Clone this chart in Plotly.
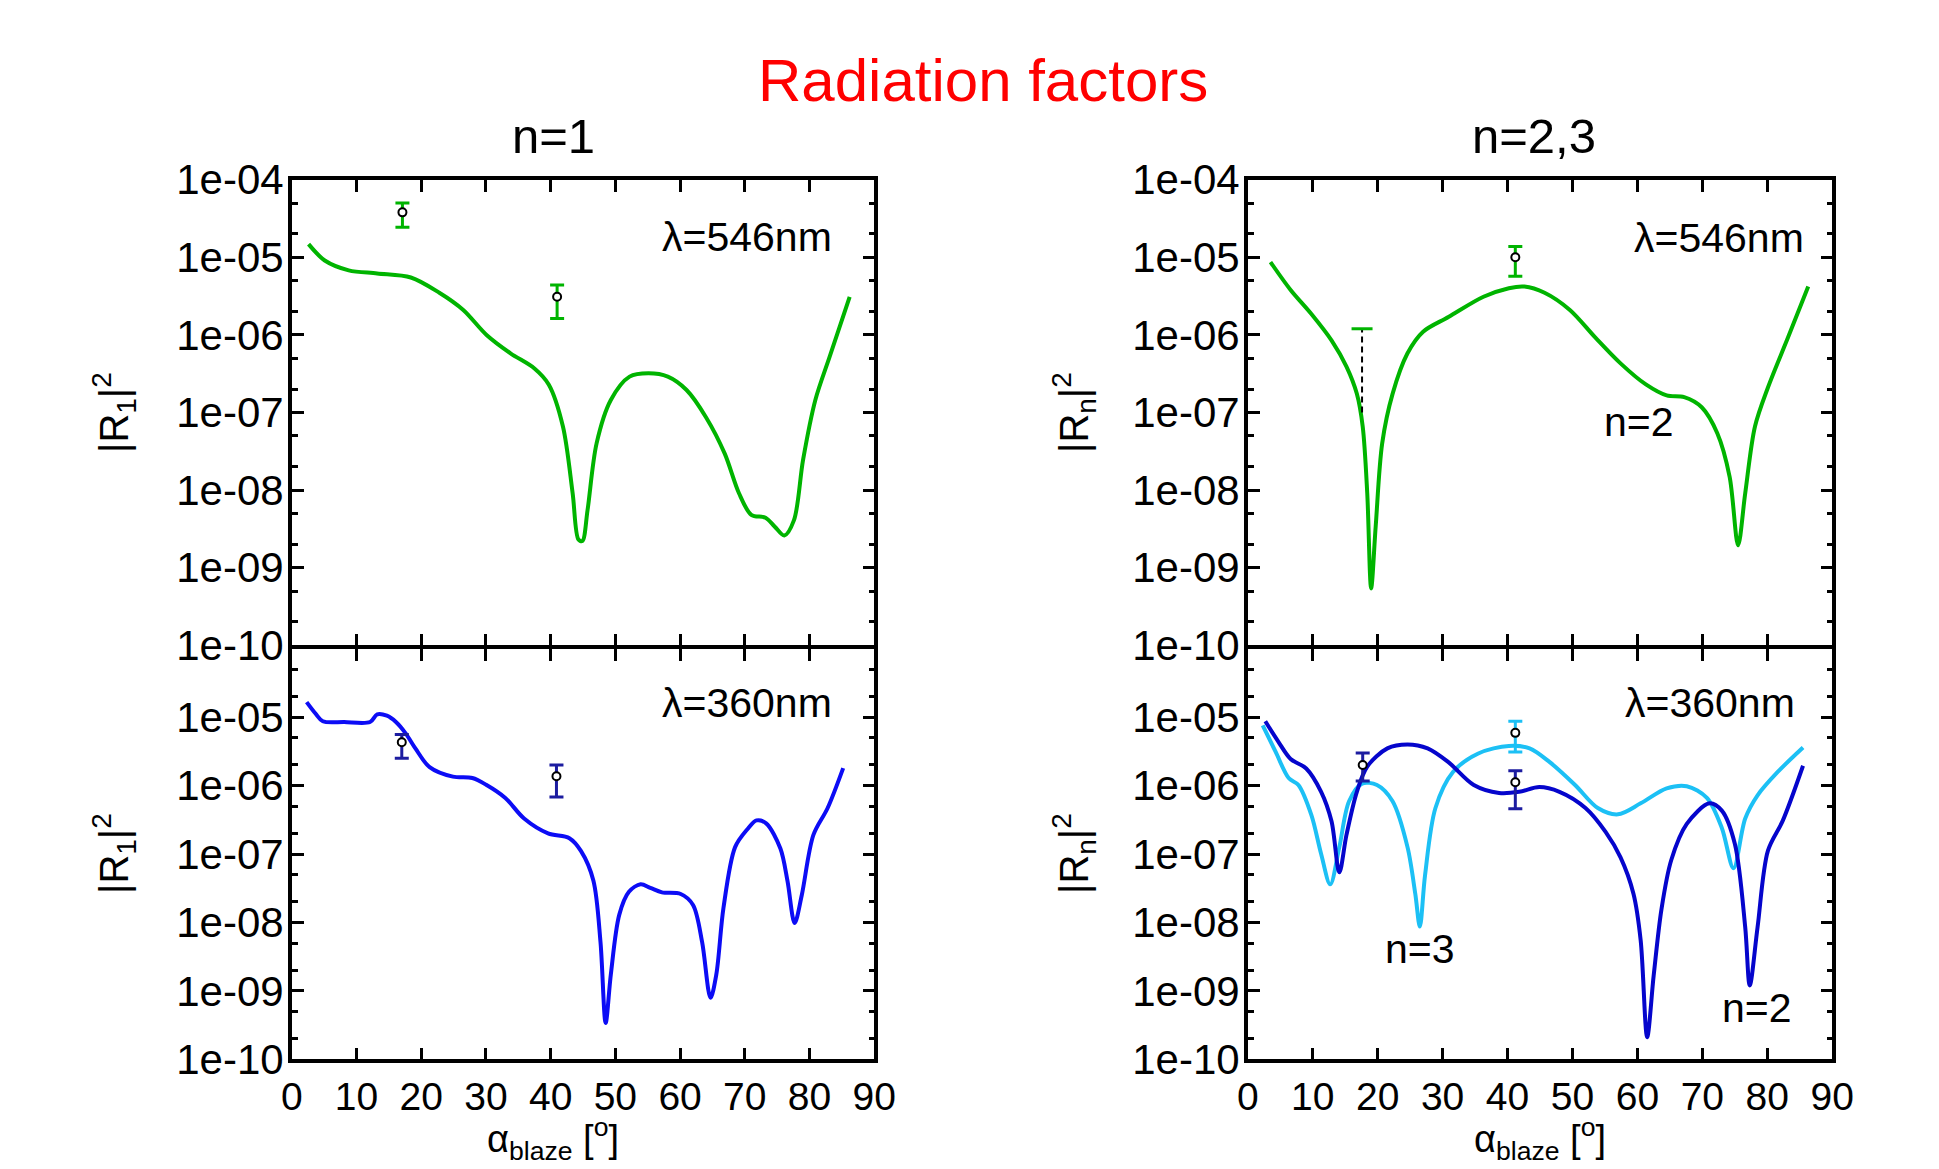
import plotly.graph_objects as go

# ---------------- data ----------------
# top-left: n=1, lambda=546nm (green)
tl_x = [2.6, 5.1, 8.8, 13.2, 18.4, 22.8, 26.5, 30.1, 33.8, 37.5, 39.7, 41.9, 43.4, 44.3, 44.9, 45.7,
        47.1, 49.3, 52.2, 55.1, 58.1, 61.0, 64.0, 66.9, 69.1, 71.0, 73.2, 74.6, 76.1, 77.6, 79.0,
        80.9, 83.1, 86.2]
tl_y = [1.48e-5, 9.1e-6, 6.8e-6, 6.2e-6, 5.5e-6, 3.5e-6, 2.1e-6, 1.0e-6, 5.8e-7, 3.7e-7, 2.3e-7,
        6.6e-8, 9.1e-9, 2.3e-9, 2.2e-9, 5.5e-9, 4.0e-8, 1.45e-7, 2.9e-7, 3.2e-7, 2.9e-7, 1.95e-7,
        8.7e-8, 2.95e-8, 9.1e-9, 4.8e-9, 4.4e-9, 3.4e-9, 2.6e-9, 4.1e-9, 2.45e-8, 1.45e-7, 5.2e-7,
        3.1e-6]
tl_pts_x = [17.1, 41.0]
tl_pts_y = [3.8e-5, 3.1e-6]
tl_pts_hi = [5.0e-5, 4.4e-6]
tl_pts_lo = [2.45e-5, 1.63e-6]

# top-right: n=2, lambda=546nm (green)
tr_x = [3.5, 6.6, 9.8, 12.9, 15.2, 16.8, 17.7, 18.4, 19.0, 19.7, 20.7, 22.3, 24.6, 27.0, 30.9, 36.3,
        40.2, 42.6, 45.7, 49.6, 53.5, 57.4, 61.3, 64.5, 67.2, 69.9, 72.3, 74.2, 75.5, 76.6, 78.1,
        80.1, 83.2, 86.3]
tr_y = [8.7e-6, 3.8e-6, 1.86e-6, 8.5e-7, 3.9e-7, 1.74e-7, 6.6e-8, 9.1e-9, 5.4e-10, 3.4e-9, 4.0e-8,
        1.74e-7, 5.8e-7, 1.1e-6, 1.7e-6, 3.1e-6, 4.0e-6, 4.2e-6, 3.5e-6, 2.1e-6, 9.3e-7, 4.3e-7,
        2.3e-7, 1.66e-7, 1.58e-7, 1.17e-7, 5.4e-8, 1.48e-8, 1.95e-9, 9.1e-9, 6.6e-8, 2.1e-7, 9.3e-7,
        4.2e-6]
tr_pts_x = [41.2]
tr_pts_y = [1.0e-5]
tr_pts_hi = [1.38e-5]
tr_pts_lo = [5.7e-6]
tr_lim_x = [17.6]
tr_lim_top = [1.2e-6]
tr_lim_bottom = [1.0e-7]

# bottom-left: n=1, lambda=360nm (blue)
bl_x = [2.3, 3.7, 4.8, 8.1, 12.1, 13.2, 14.7, 16.1, 17.6, 19.1, 21.3, 24.9, 27.9, 30.1, 33.0, 35.9,
        39.6, 42.9, 44.7, 46.6, 47.7, 48.5, 49.3, 50.6, 52.1, 53.9, 55.4, 57.2, 60.1, 62.0, 63.4,
        64.7, 65.6, 66.7, 68.5, 70.4, 71.8, 73.3, 75.5, 76.6, 77.7, 78.8, 80.6, 82.8, 85.2]
bl_y = [1.66e-5, 1.12e-5, 8.7e-6, 8.5e-6, 8.5e-6, 1.1e-5, 1.05e-5, 8.5e-6, 5.8e-6, 3.5e-6, 1.86e-6,
        1.35e-6, 1.29e-6, 1.02e-6, 6.6e-7, 3.3e-7, 2.0e-7, 1.7e-7, 1.1e-7, 4.1e-8, 5.2e-9, 3.4e-10,
        1.74e-9, 1.29e-8, 2.8e-8, 3.6e-8, 3.2e-8, 2.75e-8, 2.6e-8, 1.8e-8, 5.2e-9, 7.9e-10, 1.74e-9,
        1.62e-8, 1.26e-7, 2.3e-7, 3.1e-7, 2.8e-7, 1.2e-7, 4.0e-8, 9.8e-9, 2.5e-8, 1.9e-7, 4.7e-7,
        1.8e-6]
bl_pts_x = [17.0, 40.9]
bl_pts_y = [4.3e-6, 1.37e-6]
bl_pts_hi = [5.6e-6, 2.0e-6]
bl_pts_lo = [2.5e-6, 6.8e-7]

# bottom-right: lambda=360nm, n=2 (dark blue) and n=3 (light blue)
br2_x = [2.7, 4.7, 6.6, 9.0, 11.3, 12.9, 14.1, 15.2, 16.8, 18.4, 21.5, 24.6, 27.7, 30.9, 34.8, 38.7,
         41.8, 44.9, 48.0, 52.0, 55.1, 57.4, 59.4, 60.5, 61.5, 62.5, 63.7, 65.2, 67.6, 71.1, 73.0,
         75.0, 76.6, 77.3, 78.5, 80.1, 82.4, 85.5]
br2_y = [8.7e-6, 4.4e-6, 2.45e-6, 1.78e-6, 8.1e-7, 3.0e-7, 5.4e-8, 1.9e-7, 8.1e-7, 1.9e-6, 3.5e-6,
         4.0e-6, 3.5e-6, 2.2e-6, 1.02e-6, 7.8e-7, 8.1e-7, 9.5e-7, 8.1e-7, 4.7e-7, 2.1e-7, 8.9e-8,
         2.6e-8, 5.5e-9, 2.1e-10, 1.66e-9, 1.55e-8, 8.1e-8, 2.75e-7, 5.5e-7, 4.3e-7, 1.41e-7, 8.5e-9,
         1.2e-9, 8.5e-9, 1.12e-7, 3.1e-7, 1.95e-6]
br3_x = [2.3, 4.3, 6.3, 7.8, 9.8, 11.3, 12.7, 14.1, 15.6, 17.6, 19.9, 22.3, 24.6, 25.8, 26.5, 27.3,
         28.9, 31.6, 35.5, 40.2, 43.4, 46.5, 50.4, 53.9, 57.0, 60.5, 64.5, 67.6, 70.7, 73.0, 74.8,
         76.6, 78.5, 81.6, 85.5]
br3_y = [7.6e-6, 3.1e-6, 1.29e-6, 1.02e-6, 3.7e-7, 1.0e-7, 3.6e-8, 1.26e-7, 5.9e-7, 1.07e-6, 1.02e-6,
         5.9e-7, 1.26e-7, 2.6e-8, 8.7e-9, 4.9e-8, 4.7e-7, 1.58e-6, 2.95e-6, 3.8e-6, 3.5e-6, 2.2e-6,
         1.02e-6, 4.7e-7, 3.8e-7, 5.5e-7, 9.1e-7, 9.8e-7, 6.6e-7, 2.4e-7, 6.2e-8, 3.3e-7, 7.2e-7,
         1.58e-6, 3.6e-6]
br3_pts_x = [41.2]
br3_pts_y = [5.9e-6]
br3_pts_hi = [8.7e-6]
br3_pts_lo = [3.1e-6]
br2_pts_x = [17.7, 41.2]
br2_pts_y = [2.0e-6, 1.12e-6]
br2_pts_hi = [3.0e-6, 1.65e-6]
br2_pts_lo = [1.17e-6, 4.6e-7]

y_tick_vals = [1e-10, 1e-9, 1e-8, 1e-7, 1e-6, 1e-5, 1e-4]
y_tick_text = ["1e-10", "1e-09", "1e-08", "1e-07", "1e-06", "1e-05", "1e-04"]
y_minor_vals = [2e-10, 5e-10, 2e-9, 5e-9, 2e-8, 5e-8, 2e-7, 5e-7, 2e-6, 5e-6, 2e-5, 5e-5]
x_tick_vals = [0, 10, 20, 30, 40, 50, 60, 70, 80, 90]

# ---------------- styling ----------------
GREEN = "#00b400"
BLUE = "#0c0cf5"
DARKBLUE = "#0505cc"
LIGHTBLUE = "#1cc0f5"
NAVY = "#1c1ca0"
FONT = "Liberation Sans, Arial, sans-serif"
W, H = 1939, 1169
LW = 3.5


def px(x):
    return x / W


def py(y):
    return 1 - y / H


fig = go.Figure()


def curve(x, y, color, xa, ya):
    fig.add_trace(go.Scatter(x=x, y=y, mode="lines", xaxis=xa, yaxis=ya,
                             line=dict(color=color, width=4, shape="spline", smoothing=0.9),
                             showlegend=False, hoverinfo="skip"))


def points(x, y, hi, lo, color, xa, ya):
    fig.add_trace(go.Scatter(
        x=x, y=y, mode="markers", xaxis=xa, yaxis=ya, showlegend=False,
        marker=dict(symbol="circle", size=8, color="white", line=dict(color="black", width=2)),
        error_y=dict(type="data", symmetric=False,
                     array=[h - v for h, v in zip(hi, y)],
                     arrayminus=[v - l for l, v in zip(lo, y)],
                     color=color, thickness=3, width=7)))


curve(tl_x, tl_y, GREEN, "x", "y")
points(tl_pts_x, tl_pts_y, tl_pts_hi, tl_pts_lo, GREEN, "x", "y")

curve(tr_x, tr_y, GREEN, "x2", "y2")
points(tr_pts_x, tr_pts_y, tr_pts_hi, tr_pts_lo, GREEN, "x2", "y2")
for xv, top, bot in zip(tr_lim_x, tr_lim_top, tr_lim_bottom):
    fig.add_trace(go.Scatter(x=[xv, xv], y=[bot, top], mode="lines", xaxis="x2", yaxis="y2",
                             line=dict(color="black", width=2, dash="6px,4px"), showlegend=False))
fig.add_trace(go.Scatter(x=tr_lim_x, y=tr_lim_top, mode="markers", xaxis="x2", yaxis="y2",
                         marker=dict(symbol="line-ew", size=15, line=dict(color=GREEN, width=3)),
                         showlegend=False))

curve(bl_x, bl_y, BLUE, "x3", "y3")
points(bl_pts_x, bl_pts_y, bl_pts_hi, bl_pts_lo, NAVY, "x3", "y3")

curve(br3_x, br3_y, LIGHTBLUE, "x4", "y4")
curve(br2_x, br2_y, DARKBLUE, "x4", "y4")
points(br3_pts_x, br3_pts_y, br3_pts_hi, br3_pts_lo, LIGHTBLUE, "x4", "y4")
points(br2_pts_x, br2_pts_y, br2_pts_hi, br2_pts_lo, NAVY, "x4", "y4")

# ---------------- axes ----------------
XL = [px(290 + LW / 2), px(876 - LW / 2)]
XR = [px(1246 + LW / 2), px(1834 - LW / 2)]
YT = [py(647 - LW / 2), py(178 + LW / 2)]
YB = [py(1061 - LW / 2), py(647 + LW / 2)]

common = dict(showline=True, linecolor="black", linewidth=LW, mirror="ticks",
              ticks="inside", tickcolor="black", tickwidth=3, ticklen=12,
              showgrid=False, zeroline=False, automargin=False,
              tickfont=dict(family=FONT, size=39, color="black"))


def xaxis(domain, anchor, labels):
    return dict(common, domain=domain, anchor=anchor, range=[0, 90],
                tickvals=x_tick_vals, showticklabels=labels, ticklabelstandoff=0)


def yaxis(domain, anchor, top_label):
    vals = y_tick_vals if top_label else y_tick_vals[:-1]
    text = y_tick_text if top_label else y_tick_text[:-1]
    d = dict(common, domain=domain, anchor=anchor, type="log", range=[-10, -4],
             tickvals=vals, ticktext=text, ticklabelstandoff=-4,
             minor=dict(tickvals=y_minor_vals, ticks="inside", ticklen=6, tickwidth=2.5,
                        tickcolor="black", showgrid=False))
    d["tickfont"] = dict(family=FONT, size=42, color="black")
    return d


fig.update_layout(
    width=W, height=H, margin=dict(l=0, r=0, t=0, b=0, autoexpand=False),
    paper_bgcolor="white", plot_bgcolor="white",
    font=dict(family=FONT, color="black"),
    xaxis=xaxis(XL, "y", False), yaxis=yaxis(YT, "x", True),
    xaxis2=xaxis(XR, "y2", False), yaxis2=yaxis(YT, "x2", True),
    xaxis3=xaxis(XL, "y3", True), yaxis3=yaxis(YB, "x3", False),
    xaxis4=xaxis(XR, "y4", True), yaxis4=yaxis(YB, "x4", False),
)


def ann(text, x, y, size, xanchor="center", color="black", angle=0, yanchor="middle"):
    fig.add_annotation(text=text, x=px(x), y=py(y), xref="paper", yref="paper",
                       xanchor=xanchor, yanchor=yanchor, showarrow=False, textangle=angle,
                       font=dict(family=FONT, size=size, color=color))


ann("Radiation factors", 983, 81, 60, color="red")
ann("n=1", 553, 136, 49)
ann("n=2,3", 1534, 136, 49)

ann("λ=546nm", 834, 237, 41, xanchor="right")
ann("λ=360nm", 834, 703, 41, xanchor="right")
ann("λ=546nm", 1806, 238, 41, xanchor="right")
ann("λ=360nm", 1797, 703, 41, xanchor="right")
ann("n=2", 1639, 422, 41)
ann("n=3", 1420, 949, 41)
ann("n=2", 1757, 1008, 41)

ann("|R<sub>1</sub>|<sup>2</sup>", 114, 413, 40, angle=-90)
ann("|R<sub>1</sub>|<sup>2</sup>", 114, 854, 40, angle=-90)
ann("|R<sub>n</sub>|<sup>2</sup>", 1074, 413, 40, angle=-90)
ann("|R<sub>n</sub>|<sup>2</sup>", 1074, 854, 40, angle=-90)

ann("α<sub>blaze</sub> [<sup>o</sup>]", 553, 1168, 38, yanchor="bottom")
ann("α<sub>blaze</sub> [<sup>o</sup>]", 1540, 1168, 38, yanchor="bottom")

fig.write_html("out.html", config={"displayModeBar": False},
               post_script="document.body.style.margin='0px';"
                           "document.body.style.overflow='hidden';")
